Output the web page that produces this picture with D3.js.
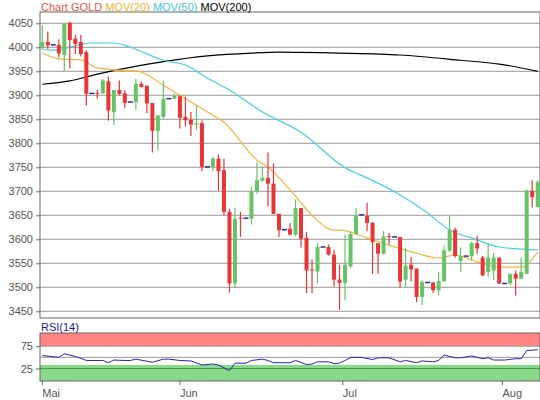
<!DOCTYPE html>
<html><head><meta charset="utf-8">
<script src="https://cdn.jsdelivr.net/npm/d3@7"></script>
<style>body{margin:0;background:#fff}svg{display:block;font-family:"Liberation Sans",Arial,sans-serif}</style>
</head><body><svg id="c" width="540" height="400"></svg>
<script>
// OHLC per trading day (index 0 = first day of May)
const opens  = [4000,4011,4005,4005,3984,4051,4018,4011,3990,3904,3905,3904,3929,3865,3911,3904,3886,3886,3924,3920,3884,3826,3855,3893,3893,3898,3855,3849,3839,3842,3751,3751,3768,3744,3657,3508,3645,3644,3643,3699,3722,3728,3716,3653,3620,3622,3610,3665,3603,3537,3533,3584,3584,3568,3516,3509,3544,3611,3651,3649,3634,3592,3570,3607,3605,3605,3516,3547,3539,3480,3510,3510,3494,3513,3576,3620,3555,3565,3565,3592,3562,3532,3535,3562,3508,3508,3528,3518,3528,3701,3667];
const highs  = [4046,4033,4005,4017,4050,4053,4026,4026,3994,3904,3911,3934,3939,3911,3931,3911,3886,3934,3929,3920,3884,3858,3931,3893,3903,3900,3897,3865,3879,3848,3751,3772,3777,3768,3664,3665,3657,3644,3709,3761,3752,3781,3758,3653,3620,3634,3683,3665,3615,3558,3592,3584,3589,3578,3547,3610,3617,3665,3651,3676,3636,3592,3617,3613,3605,3605,3582,3563,3539,3515,3510,3511,3532,3587,3648,3624,3583,3565,3595,3608,3565,3590,3572,3562,3508,3528,3535,3562,3703,3723,3723];
const lows   = [3996,3996,4005,3979,3951,3956,3986,3981,3879,3904,3893,3903,3847,3838,3900,3873,3886,3870,3917,3863,3781,3785,3851,3893,3892,3831,3835,3815,3827,3742,3751,3742,3701,3650,3489,3498,3605,3644,3631,3695,3720,3669,3652,3605,3620,3608,3606,3583,3488,3488,3508,3584,3566,3502,3453,3473,3540,3610,3651,3617,3528,3528,3568,3589,3605,3499,3499,3512,3469,3463,3510,3488,3483,3511,3574,3562,3532,3565,3556,3570,3523,3522,3515,3507,3508,3504,3483,3518,3528,3666,3667];
const closes = [4011,4004,4005,3987,4050,4015,4007,3986,3903,3904,3903,3931,3868,3911,3903,3884,3886,3924,3917,3883,3826,3858,3893,3893,3899,3853,3848,3839,3842,3751,3751,3768,3742,3657,3508,3643,3643,3644,3699,3723,3728,3716,3653,3619,3620,3610,3665,3601,3535,3535,3584,3584,3568,3516,3509,3547,3611,3649,3651,3634,3594,3570,3606,3605,3605,3512,3545,3537,3480,3511,3510,3494,3513,3577,3620,3565,3565,3565,3592,3581,3525,3562,3562,3508,3508,3528,3518,3532,3702,3688,3719];
// moving averages read at sample indices
const ma20Idx = [0,3,7,10,16,17,22,25,30,33,39,41,45,49,53,54,59,63,68,72,75,79,83,87,90];
const ma20Val = [3988,3976,3974,3957,3951,3951,3921,3900,3865,3844,3765,3750,3703,3650,3619,3619,3603,3588,3571,3561,3567,3553,3542,3542,3574];
const ma50Idx = [0,2,9,13,16,22,26,30,34,40,47,55,59,64,70,74,78,83,90];
const ma50Val = [3996,3994,4009,4009,4000,3973,3963,3936,3911,3865,3823,3749,3728,3699,3655,3619,3603,3584,3578];
const ma200Idx = [0,5,10,16,22,30,38,43,54,65,76,83,90];
const ma200Val = [3923,3930,3944,3958,3970,3982,3988,3990,3988,3984,3973,3965,3950];
const rsiIdx = [0,3,4,6,7,8,11,12,13,15,16,17,20,22,23,25,27,29,31,32,34,35,37,38,40,41,42,45,46,48,49,50,52,53,54,55,56,58,60,61,63,65,66,68,69,71,72,73,75,76,78,80,81,82,84,86,87,88,90];
const rsiVal = [54,50,58,52,48,43,43,38,44,43,43,46,39,46,46,43,42,33,35,33,20,37,37,43,46,43,38,38,43,34,35,40,40,36,37,43,50,50,45,49,49,40,43,38,42,40,43,55,49,49,53,47,49,44,44,47,47,65,67];
const yTicks = [4050,4000,3950,3900,3850,3800,3750,3700,3650,3600,3550,3500,3450];
const monthLabels = ["Mai","Jun","Jul","Aug"];
const monthIdx = [0,25,54.6,83.6];
const rsiTicks = [75,25];

const svg = d3.select("#c");
const L=40,R=540,T=12,B=318,RT=333,RB=381;
const x = d3.scaleLinear().domain([0,90]).range([42.3,537.7]);
const y = d3.scaleLinear().domain([3450,4050]).range([311.3,23.3]);
const yr = d3.scaleLinear().domain([0,100]).range([379.7,335]);

// grid
svg.append("g").selectAll("line").data(yTicks).join("line")
  .attr("x1",L).attr("x2",R).attr("y1",d=>y(d)).attr("y2",d=>y(d)).attr("stroke","#999");
svg.append("rect").attr("x",L).attr("y",T).attr("width",R-L).attr("height",B-T).attr("fill","none").attr("stroke","#666");
const ya = svg.append("g").attr("transform",`translate(${L},0)`).call(d3.axisLeft(y).tickValues(yTicks).tickFormat(d3.format("d")).tickSize(4).tickPadding(3));
ya.select(".domain").remove();
ya.selectAll("text").attr("font-size",11).attr("fill","#555").attr("font-family","Liberation Sans, Arial");
ya.selectAll("line").attr("stroke","#666");

// MA lines
const line = d3.line().x(d=>x(d[0])).y(d=>y(d[1])).curve(d3.curveMonotoneX);
function ma(idx,val,col){svg.append("path").attr("d",line(d3.zip(idx,val))).attr("fill","none").attr("stroke",col).attr("stroke-width",1.2);}
ma(ma200Idx,ma200Val,"#000");
ma(ma50Idx,ma50Val,"#44d0e6");
ma(ma20Idx,ma20Val,"#f5b43c");

// candles
const data = d3.range(opens.length).map(i=>({i,o:opens[i],h:highs[i],l:lows[i],c:closes[i]}));
const g = svg.append("g");
data.forEach(d=>{
  const flat = d.o===d.c && d.h===d.l;
  if(flat){g.append("line").attr("x1",x(d.i)-2.5).attr("x2",x(d.i)+2.5).attr("y1",y(d.c)).attr("y2",y(d.c)).attr("stroke","#2a2a9a").attr("stroke-width",1.5);return;}
  const col = d.c>=d.o ? "#66c466" : "#e83535";
  g.append("line").attr("x1",x(d.i)).attr("x2",x(d.i)).attr("y1",y(d.h)).attr("y2",y(d.l)).attr("stroke",col).attr("stroke-width",1.2);
  const top=y(Math.max(d.o,d.c)), bot=y(Math.min(d.o,d.c));
  g.append("rect").attr("x",x(d.i)-2).attr("width",4).attr("y",top).attr("height",Math.max(1,bot-top)).attr("fill",col);
});

// legend
const lg = svg.append("text").attr("x",41).attr("y",11).attr("font-size",11);
[["Chart GOLD ","#e8553a"],["MOV(20) ","#f0b030"],["MOV(50) ","#40c4e0"],["MOV(200)","#000"]].forEach(([t,c])=>lg.append("tspan").attr("fill",c).text(t));

// RSI panel
svg.append("rect").attr("x",L).attr("y",RT).attr("width",R-L).attr("height",yr(75)-RT).attr("fill","#ff8585");
svg.append("rect").attr("x",L).attr("y",yr(33)).attr("width",R-L).attr("height",RB-yr(33)).attr("fill","#8ad88a");
svg.append("g").selectAll("line").data([75,50,25]).join("line")
  .attr("x1",L).attr("x2",R).attr("y1",d=>yr(d)).attr("y2",d=>yr(d)).attr("stroke",d=>d===25?"#4a9a4a":"#999");
svg.append("rect").attr("x",L).attr("y",RT).attr("width",R-L).attr("height",RB-RT).attr("fill","none").attr("stroke","#666");
svg.append("text").attr("x",41).attr("y",331).attr("font-size",11).attr("fill","#1a1aa0").text("RSI(14)");
const ra = svg.append("g").attr("transform",`translate(${L},0)`).call(d3.axisLeft(yr).tickValues(rsiTicks).tickSize(4).tickPadding(3));
ra.select(".domain").remove();
ra.selectAll("text").attr("font-size",11).attr("fill","#555");
ra.selectAll("line").attr("stroke","#666");
const rl = d3.line().x(d=>x(d[0])).y(d=>yr(d[1]));
svg.append("path").attr("d",rl(d3.zip(rsiIdx,rsiVal))).attr("fill","none").attr("stroke","#2525b0").attr("stroke-width",1);

// x axis
const xa = svg.append("g").attr("transform",`translate(0,${RB})`);
monthIdx.forEach((m,k)=>{
  xa.append("line").attr("x1",x(m)).attr("x2",x(m)).attr("y1",0).attr("y2",4).attr("stroke","#666");
  xa.append("text").attr("x",x(m)).attr("y",16).attr("font-size",11).attr("fill","#555").text(monthLabels[k]);
});
</script></body></html>
